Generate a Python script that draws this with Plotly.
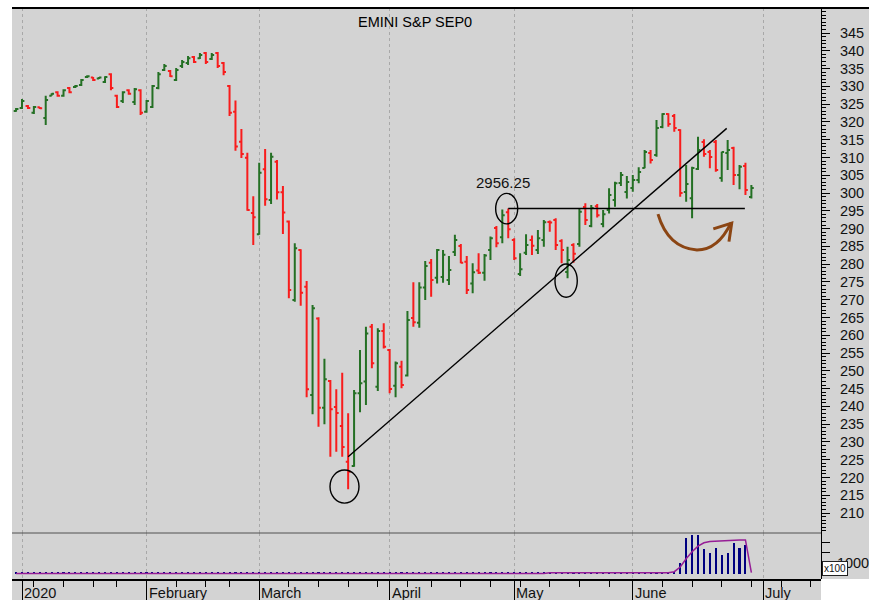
import pandas as pd
import plotly.graph_objects as go

# ---------------- data ----------------
holidays = ["2020-01-01", "2020-01-20", "2020-02-17", "2020-04-10", "2020-05-25"]
trading_days = [d for d in pd.bdate_range("2019-12-31", "2020-06-29")
                if d.strftime("%Y-%m-%d") not in holidays]
future_days = list(pd.bdate_range("2020-06-30", "2020-07-31"))

month_names = ["2020", "February", "March", "April", "May", "June", "July"]

opens = [
    3230.5,
    3239.1, 3244.8, 3225.4, 3241.0, 3211.1, 3273.5, 3283.6, 3273.2, 3295.0, 3297.8,
    3303.5, 3326.2, 3325.0, 3322.0, 3312.0, 3334.3, 3273.2, 3259.0, 3289.3, 3256.1, 3289.3,
    3228.2, 3241.9, 3295.0, 3345.7, 3342.8, 3317.7, 3357.0, 3365.6, 3382.2, 3379.3,
    3393.5, 3377.0, 3393.5, 3365.6, 3301.0, 3228.2, 3144.2, 3099.2, 2943.4,
    2883.8, 3066.7, 2980.4, 3087.8, 3001.8, 2919.6, 2698.9, 2839.6, 2736.2, 2432.1,
    2647.3, 2396.0, 2471.5, 2398.0, 2344.4, 2243.9, 2232.1, 2437.0, 2469.5, 2623.9, 2455.2, 2611.7,
    2558.2, 2458.0, 2511.6, 2486.6, 2648.2, 2635.3, 2734.5, 2804.0, 2761.8, 2763.8,
    2755.3, 2833.9, 2851.0, 2806.8, 2745.8, 2781.7, 2776.0, 2839.6, 2901.7, 2875.7, 2946.2,
    2868.1, 2772.3, 2831.6, 2868.1, 2839.6, 2868.1, 2918.7, 2924.4, 2865.2, 2778.0,
    2853.8, 2856.7, 2960.4, 2907.4, 2963.0, 2913.1, 2951.9, 2980.4, 3028.2, 3002.6,
    3014.0, 3036.3, 3070.4, 3112.5, 3106.9, 3185.5, 3222.5, 3216.8, 3177.5, 3002.6,
    2985.5, 3067.5, 3143.4, 3115.4, 3143.4, 3042.0, 3112.5, 3126.8, 3050.5, 3076.0, 2988.4,
]
highs = [
    3239.1,
    3264.7, 3247.6, 3244.8, 3241.9, 3273.2, 3280.7, 3286.4, 3292.1, 3297.8, 3303.5,
    3320.5, 3331.5, 3326.2, 3326.2, 3328.6, 3337.1, 3276.0, 3286.4, 3292.1, 3295.0, 3292.1,
    3261.8, 3303.5, 3340.0, 3362.7, 3345.7, 3351.4, 3374.1, 3385.0, 3385.0, 3393.5,
    3396.4, 3393.5, 3396.4, 3368.4, 3303.5, 3259.8, 3179.8, 3113.4, 2991.2,
    3085.0, 3123.9, 3113.4, 3092.7, 3019.7, 2922.5, 2858.7, 2841.6, 2752.4, 2685.1,
    2650.2, 2533.5, 2474.2, 2447.8, 2494.6, 2380.6, 2445.9, 2558.2, 2623.9, 2631.6, 2619.4, 2633.6,
    2561.0, 2525.9, 2527.9, 2668.1, 2748.7, 2748.7, 2808.8, 2814.5, 2842.5, 2839.6,
    2823.0, 2882.3, 2856.7, 2823.0, 2802.3, 2830.7, 2828.7, 2877.4, 2907.4, 2953.9, 2956.25,
    2872.9, 2830.7, 2883.8, 2880.3, 2896.0, 2924.4, 2922.5, 2929.2, 2870.0, 2849.0,
    2858.7, 2956.7, 2970.9, 2966.1, 2968.9, 2951.9, 3013.1, 3031.4, 3059.0, 3047.6,
    3050.5, 3072.4, 3121.1, 3121.1, 3205.4, 3224.5, 3224.5, 3222.5, 3179.5, 3078.9,
    3074.1, 3158.4, 3151.0, 3121.1, 3149.0, 3116.3, 3149.0, 3130.0, 3078.9, 3085.0, 3022.5,
]
lows = [
    3228.2,
    3236.2, 3236.2, 3222.5, 3236.2, 3191.2, 3273.2, 3270.4, 3270.4, 3280.7, 3295.0,
    3300.6, 3323.4, 3314.9, 3320.6, 3309.2, 3289.3, 3239.1, 3253.3, 3276.0, 3247.6, 3219.7,
    3225.4, 3239.1, 3292.1, 3342.8, 3326.2, 3314.9, 3351.4, 3359.9, 3365.6, 3377.0,
    3362.7, 3374.1, 3351.4, 3331.5, 3216.8, 3119.1, 3098.3, 2949.9, 2853.8,
    2882.3, 2964.1, 2968.9, 2981.9, 2884.6, 2703.7, 2694.1, 2683.2, 2425.6, 2377.7,
    2342.5, 2349.3, 2258.1, 2272.4, 2258.1, 2166.9, 2230.2, 2383.4, 2403.7, 2507.1, 2443.0, 2563.0,
    2437.0, 2425.6, 2450.7, 2483.7, 2624.0, 2621.1, 2698.9, 2708.3, 2745.8, 2747.6,
    2741.1, 2823.0, 2802.3, 2715.9, 2717.9, 2772.3, 2753.3, 2811.6, 2847.3, 2858.7, 2872.9,
    2811.6, 2766.7, 2825.9, 2825.9, 2828.7, 2849.0, 2891.1, 2839.6, 2802.3, 2760.1,
    2804.0, 2849.0, 2910.2, 2903.9, 2931.0, 2903.9, 2942.5, 2961.3, 3019.7, 2984.7,
    3003.5, 3027.3, 3069.5, 3083.3, 3102.0, 3181.8, 3186.4, 3172.6, 2989.2, 2975.5,
    2929.2, 3064.7, 3102.0, 3069.5, 3059.8, 3031.4, 3064.7, 3022.5, 3010.3, 2994.1, 2984.7,
]
closes = [
    3236.2,
    3259.0, 3239.1, 3241.9, 3238.0, 3261.8, 3278.9, 3273.2, 3289.3, 3283.6, 3300.6,
    3317.7, 3328.6, 3317.7, 3324.8, 3326.2, 3295.0, 3241.9, 3283.6, 3278.9, 3292.1, 3225.4,
    3259.0, 3300.6, 3334.3, 3357.0, 3328.6, 3345.7, 3368.4, 3379.3, 3368.4, 3387.8,
    3368.4, 3387.8, 3357.0, 3340.0, 3225.4, 3130.5, 3109.7, 2951.9, 2932.0,
    3057.0, 2982.7, 3102.0, 3001.8, 2945.4, 2727.3, 2844.5, 2719.6, 2447.8, 2675.8,
    2396.0, 2476.3, 2391.5, 2381.4, 2285.7, 2215.9, 2437.0, 2464.9, 2605.1, 2521.3, 2611.7, 2567.5,
    2448.7, 2521.3, 2460.1, 2642.5, 2636.8, 2734.5, 2794.6, 2755.3, 2839.6, 2826.0,
    2783.2, 2868.1, 2804.0, 2727.3, 2777.2, 2776.0, 2824.0, 2872.9, 2858.7, 2937.7, 2898.0,
    2816.5, 2785.2, 2853.8, 2851.9, 2872.9, 2917.9, 2916.8, 2853.8, 2839.6, 2811.6,
    2829.0, 2947.0, 2924.4, 2957.6, 2937.7, 2940.5, 2994.1, 3027.3, 3050.5, 3031.1,
    3036.3, 3059.0, 3115.4, 3092.6, 3182.7, 3222.5, 3194.1, 3182.7, 2999.8, 3025.3,
    3070.4, 3121.1, 3109.7, 3101.1, 3064.7, 3115.4, 3121.1, 3050.5, 3074.0, 3008.3, 3014.0,
]
# volume (x100 contracts)
volume = [
    150,
    150, 150, 150, 150, 150, 150, 150, 150, 150, 150, 150, 150, 150, 150, 150, 150, 150, 150, 150, 150, 150,
    150, 150, 150, 150, 150, 150, 150, 150, 150, 150, 150, 150, 150, 150, 150, 150, 150, 150, 150,
    150, 150, 150, 150, 150, 150, 150, 150, 150, 150, 150, 150, 150, 150, 150, 150, 150, 150, 150, 150, 150, 150,
    150, 150, 150, 150, 150, 150, 150, 150, 150, 150, 150, 150, 150, 150, 150, 150, 150, 150, 150, 150, 150,
    150, 150, 150, 150, 150, 150, 150, 150, 150, 150, 150, 150, 150, 150, 150, 150, 150, 150, 150, 150,
    150, 150, 150, 150, 150, 150, 150, 150, 1030, 3350,
    3670, 3670, 2300, 1920, 2400, 1760, 1920, 2880, 2400, 2710, 0,
]
open_interest = [
    0,
    0, 0, 0, 0, 0, 0, 0, 0, 0, 0, 0, 0, 0, 0, 0, 0, 0, 0, 0, 0, 0,
    0, 0, 0, 0, 0, 0, 0, 0, 0, 0, 0, 0, 0, 0, 0, 0, 0, 0, 0,
    0, 0, 0, 0, 0, 0, 0, 0, 0, 0, 0, 0, 0, 0, 0, 0, 0, 0, 0, 0, 0, 0,
    0, 0, 0, 0, 0, 0, 0, 0, 0, 0, 0, 0, 0, 0, 0, 0, 0, 0, 0, 0, 0,
    0, 0, 0, 0, 0, 0, 76, 76, 76, 76, 76, 76, 76, 76, 76, 76, 76, 76, 76, 76,
    76, 76, 76, 76, 76, 76, 76, 170, 620, 1400,
    2080, 2600, 2930, 3040, 3080, 3110, 3130, 3150, 3180, 3200, 76,
]

level_2956 = 2956.25
price_ticks = list(range(2100, 3451, 50))
price_ticktext = [str(v // 10) for v in price_ticks]

# ---------------- derived positions ----------------
calendar = trading_days + future_days
xs_all = list(range(-1, len(calendar) - 1))
n = len(opens)
xs = xs_all[:n]
month_starts = [xs_all[k] for k in range(1, len(calendar))
                if calendar[k].month != calendar[k - 1].month]
week_starts = [xs_all[k] for k in range(1, len(calendar))
               if calendar[k].isocalendar()[1] != calendar[k - 1].isocalendar()[1]]

GREEN = "#247024"
RED = "#f81c1c"
BG = "#d3d3d3"
FONT = "Liberation Sans, Arial, sans-serif"
FS = 14.5

W, H = 869, 600
ML, MR, MT, MB = 12, 48, 8, 21
PW, PH = W - ML - MR, H - MT - MB
vol_top = (579 - 533) / PH

fig = go.Figure()
fig.add_trace(go.Ohlc(
    x=xs, open=opens, high=highs, low=lows, close=closes,
    xaxis="x", yaxis="y", tickwidth=0.4,
    increasing=dict(line=dict(color=GREEN, width=2)),
    decreasing=dict(line=dict(color=RED, width=2)),
    showlegend=False, hoverinfo="skip"))
fig.add_trace(go.Bar(
    x=xs, y=volume, xaxis="x", yaxis="y2", width=0.35,
    marker=dict(color="#000080", line=dict(width=0)),
    showlegend=False, hoverinfo="skip"))
fig.add_trace(go.Scatter(
    x=xs, y=open_interest, xaxis="x", yaxis="y2", mode="lines",
    line=dict(color="#961e96", width=1.5),
    showlegend=False, hoverinfo="skip"))

shapes = []
# white outer strips
shapes.append(dict(type="rect", xref="paper", yref="paper", x0=-0.03, x1=0, y0=-0.06, y1=1.03,
                   fillcolor="white", line=dict(width=0), layer="above"))
shapes.append(dict(type="rect", xref="paper", yref="paper", x0=-0.03, x1=1.08, y0=1, y1=1.03,
                   fillcolor="white", line=dict(width=0), layer="above"))
shapes.append(dict(type="rect", xref="paper", yref="paper", x0=1.0, x1=1.08, y0=-0.06, y1=0,
                   fillcolor="white", line=dict(width=0), layer="above"))
# top border
shapes.append(dict(type="line", xref="paper", yref="paper", x0=0, x1=1.08, y0=1, y1=1,
                   line=dict(color="black", width=2), layer="above"))
# panel separator
shapes.append(dict(type="line", xref="paper", yref="paper", x0=0, x1=1, y0=vol_top, y1=vol_top,
                   line=dict(color="#505050", width=1), layer="above"))
# trend line from March low
shapes.append(dict(type="line", xref="x", yref="y", x0=55, y0=lows[55], x1=118.84, y1=3181.8,
                   line=dict(color="black", width=1.4)))
# horizontal line at the April high
shapes.append(dict(type="line", xref="x", yref="y", x0=82, y0=level_2956, x1=121.9, y1=level_2956,
                   line=dict(color="black", width=1.4)))
# circles
for (a0, a1, b0, b1) in [(51.94, 56.83, 2127.9, 2220.8),
                         (79.88, 83.59, 2913.1, 2998.9),
                         (89.88, 93.64, 2706.6, 2800.3)]:
    shapes.append(dict(type="circle", xref="x", yref="y", x0=a0, x1=a1, y0=b0, y1=b1,
                       line=dict(color="black", width=1.4)))
# brown curved arrow
shapes.append(dict(type="path", xref="x", yref="y",
                   path="M 107.25,2940.5 Q 108.94,2845.3 113.83,2839.6 Q 117.37,2839.6 119.56,2915.9",
                   line=dict(color="#8B4513", width=3)))
shapes.append(dict(type="path", xref="x", yref="y",
                   path="M 116.58,2898.9 L 119.68,2915.1 L 119.22,2863.2",
                   line=dict(color="#8B4513", width=3)))

annotations = []
annotations.append(dict(text="EMINI S&P SEP0", xref="paper", yref="paper", x=0.498,
                        y=(579 - 22) / PH, showarrow=False, xanchor="center", yanchor="middle",
                        font=dict(family=FONT, size=FS, color="black")))
annotations.append(dict(text="2956.25", xref="x", yref="y", x=81.17, y=3028.2, showarrow=False,
                        xanchor="center", yanchor="middle",
                        font=dict(family=FONT, size=15, color="#111")))
for name, pos in zip(month_names, month_starts):
    annotations.append(dict(text=name, xref="x", yref="paper", x=pos, y=(579 - 593) / PH,
                            showarrow=False, xanchor="left", yanchor="middle",
                            font=dict(family=FONT, size=FS, color="#111")))
annotations.append(dict(text="x100", xref="paper", yref="paper", x=(822 - ML) / PW,
                        y=(579 - 568) / PH, showarrow=False, xanchor="left", yanchor="middle",
                        bgcolor="white", bordercolor="#222", borderwidth=1, borderpad=1,
                        font=dict(family=FONT, size=10, color="#111")))

fig.update_layout(
    width=W, height=H, autosize=False,
    margin=dict(l=ML, r=MR, t=MT, b=MB, pad=0, autoexpand=False),
    paper_bgcolor=BG, plot_bgcolor=BG,
    font=dict(family=FONT, size=FS, color="#111"),
    showlegend=False, bargap=0,
    shapes=shapes, annotations=annotations,
    xaxis=dict(
        range=[-1.686, 134.74], anchor="y2", rangeslider=dict(visible=False),
        automargin=False,
        tickmode="array", tickvals=month_starts, showticklabels=False,
        ticks="outside", ticklen=21, tickwidth=1.2, tickcolor="black",
        showgrid=True, gridcolor="#a8a8a8", griddash="dot", gridwidth=1,
        showline=True, linecolor="black", linewidth=1.5, zeroline=False,
        minor=dict(tickmode="array", tickvals=week_starts, ticks="outside", ticklen=6,
                   tickcolor="black", tickwidth=1, showgrid=False),
    ),
    yaxis=dict(
        domain=[vol_top, 1], range=[2043.75, 3520.3], side="right", anchor="x",
        automargin=False,
        tickmode="array", tickvals=price_ticks, ticktext=price_ticktext,
        ticks="outside", ticklen=8, tickcolor="black", tickwidth=1,
        ticklabelstandoff=7,
        minor=dict(tick0=2100, dtick=10, ticks="outside", ticklen=4, tickcolor="black",
                   showgrid=False),
        showgrid=False, zeroline=False, showline=True, linecolor="black", linewidth=1,
        tickfont=dict(family=FONT, size=FS, color="#111"),
    ),
    yaxis2=dict(
        domain=[0, vol_top], range=[-524, 3857], side="right", anchor="x",
        automargin=False,
        tickmode="array", tickvals=[1000, 2000, 3000], ticktext=["1000", "", ""],
        ticks="outside", ticklen=8, tickcolor="black", tickwidth=1,
        ticklabelstandoff=4,
        showgrid=False, zeroline=False, showline=True, linecolor="black", linewidth=1,
        tickfont=dict(family=FONT, size=FS, color="#111"),
    ),
)

fig.write_html("out.html", config={"displayModeBar": False},
               post_script="document.body.style.margin='0';document.body.style.overflow='hidden';")
